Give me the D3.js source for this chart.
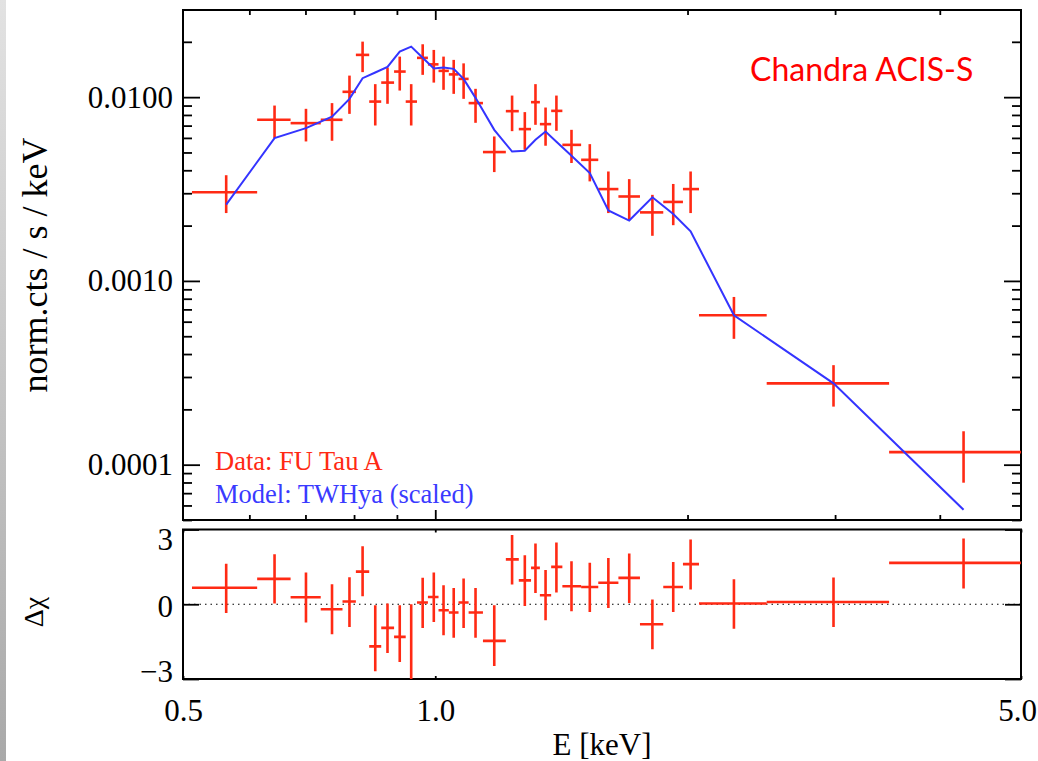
<!DOCTYPE html>
<html>
<head>
<meta charset="utf-8">
<script src="https://cdnjs.cloudflare.com/ajax/libs/d3/7.8.5/d3.min.js"></script>
<style>
  body { margin: 0; background: #ffffff; }
  svg text { font-family: "Liberation Serif", "DejaVu Serif", serif; }
</style>
</head>
<body>
<div id="chart"></div>
<script>
'use strict'

////////////////////////////////////
//////////// data //////////////////
////////////////////////////////////

// bin centres and bin edges [keV]
const energy = [0.563, 0.643, 0.701, 0.753, 0.790, 0.819, 0.848, 0.877, 0.907, 0.936, 0.966, 0.996,
    1.023, 1.052, 1.081, 1.117, 1.176, 1.235, 1.279, 1.317, 1.354, 1.395, 1.454, 1.529,
    1.609, 1.704, 1.816, 1.923, 2.017, 2.272, 2.987, 4.27]
const binEdges = [0.5125, 0.613, 0.672, 0.730, 0.775, 0.804, 0.834, 0.862, 0.893, 0.922, 0.951, 0.980,
    1.009, 1.038, 1.066, 1.096, 1.140, 1.214, 1.258, 1.301, 1.333, 1.375, 1.418, 1.493,
    1.565, 1.654, 1.755, 1.871, 1.975, 2.064, 2.486, 3.48, 5.2]

// FU Tau A counts [norm.cts / s / keV]
const flux = [0.00304, 0.00753, 0.00722, 0.00753, 0.01069, 0.01698, 0.00946, 0.0120, 0.01378, 0.00946, 0.01636, 0.01508,
    0.0139, 0.0133, 0.01257, 0.00928, 0.005025, 0.00839, 0.0067, 0.00939, 0.00713, 0.00842, 0.0055, 0.00456,
    0.00316, 0.00288, 0.00236, 0.00269, 0.00316, 0.00065, 0.000277, 0.000117]
const fluxHi = [0.00376, 0.0090, 0.00864, 0.00928, 0.0131, 0.02005, 0.01177, 0.01449, 0.01662, 0.01177, 0.0194, 0.01807,
    0.01662, 0.01595, 0.01527, 0.0111, 0.00611, 0.0102, 0.00829, 0.01177, 0.00878, 0.0102, 0.00664, 0.00555,
    0.00394, 0.00358, 0.00294, 0.00337, 0.00394, 0.000818, 0.000348, 0.000152]
const fluxLo = [0.00234, 0.00599, 0.00574, 0.00579, 0.00811, 0.01368, 0.00701, 0.0092, 0.01086, 0.00701, 0.01322, 0.0120,
    0.01096, 0.01042, 0.00979, 0.00725, 0.00391, 0.00653, 0.00517, 0.00707, 0.00544, 0.00656, 0.00438, 0.00348,
    0.00234, 0.00214, 0.00176, 0.00201, 0.00234, 0.000484, 0.000207, 0.0000798]

// TW Hya model (scaled)
const model = [0.0026, 0.00599, 0.00678, 0.00782, 0.00979, 0.01268, 0.01362, 0.01461, 0.01769, 0.01884, 0.01639, 0.01434,
    0.01449, 0.01425, 0.01257, 0.00991, 0.00664, 0.00506, 0.00511, 0.00586, 0.0065, 0.00572, 0.0048, 0.00386,
    0.00242, 0.00213, 0.00285, 0.00231, 0.00186, 0.00065, 0.000277, 0.0000568]

// residuals (delta chi)
const resid = [0.66, 1.02, 0.28, -0.20, 0.11, 1.31, -1.69, -0.95, -1.31, -3.94, 0.07, 0.29,
    -0.24, -0.33, 0.07, -0.33, -1.47, 1.80, 0.96, 1.46, 0.36, 1.50, 0.72, 0.69,
    0.86, 1.06, -0.80, 0.69, 1.61, 0.03, 0.09, 1.66]
const residHi = [1.63, 2.01, 1.27, 0.80, 1.08, 2.33, -0.04, 0.03, -0.04, 0.0, 1.06, 1.27,
    0.76, 0.65, 1.03, 0.65, -0.04, 2.78, 1.97, 2.44, 1.37, 2.48, 1.73, 1.67,
    1.86, 2.04, 0.19, 1.70, 2.60, 1.00, 1.07, 2.64]
const residLo = [-0.35, 0.03, -0.73, -1.20, -0.91, 0.32, -2.69, -1.96, -2.32, -4.9, -0.95, -0.71,
    -1.24, -1.34, -0.95, -1.34, -2.48, 0.79, -0.07, 0.45, -0.64, 0.47, -0.28, -0.31,
    -0.15, 0.05, -1.81, -0.31, 0.59, -0.98, -0.91, 0.63]

// ticks
const xMajor = [0.5, 1.0, 5.0]
const xMajorLabels = ['0.5', '1.0', '5.0']
const xMinor = [0.6, 0.7, 0.8, 0.9, 2, 3, 4]
const yMajor = [0.0001, 0.001, 0.01]
const yMajorLabels = ['0.0001', '0.0010', '0.0100']
const yMinor = [0.00005, 0.00006, 0.00007, 0.00008, 0.00009,
    0.0002, 0.0003, 0.0004, 0.0005, 0.0006, 0.0007, 0.0008, 0.0009,
    0.002, 0.003, 0.004, 0.005, 0.006, 0.007, 0.008, 0.009, 0.02]
const rTicks = [-3, 0, 3]
const rTickLabels = ['\u22123', '0', '3']

////////////////////////////////////
//////////// svg setup /////////////
////////////////////////////////////

const svgWidth = 1038
const svgHeight = 761

const left = 183, right = 1021
const top1 = 10, bot1 = 520      // spectrum panel
const top2 = 529.5, bot2 = 679   // residual panel

const red = '#ff2a14'
const blue = '#3434ff'

const svg = d3.select('#chart')
    .append('svg')
    .attr('width', svgWidth)
    .attr('height', svgHeight)

// grey strip on the left edge
const defs = svg.append('defs')
const grad = defs.append('linearGradient')
    .attr('id', 'edge')
    .attr('x1', 0).attr('y1', 0).attr('x2', 0).attr('y2', 1)
grad.append('stop').attr('offset', '0%').attr('stop-color', '#e2e2e2')
grad.append('stop').attr('offset', '100%').attr('stop-color', '#a9a9a9')
svg.append('rect')
    .attr('x', 0).attr('y', 0)
    .attr('width', 6).attr('height', svgHeight)
    .attr('fill', 'url(#edge)')

defs.append('clipPath').attr('id', 'clip1')
    .append('rect').attr('x', left).attr('y', top1).attr('width', right - left).attr('height', bot1 - top1)
defs.append('clipPath').attr('id', 'clip2')
    .append('rect').attr('x', left).attr('y', top2).attr('width', right - left).attr('height', bot2 - top2)

////////////////////////////////////
//////////// Scales ////////////////
////////////////////////////////////

const x = d3.scaleLog().domain([0.5, 5]).range([left, right])
const y = d3.scaleLog().domain([0.00005, 0.0298]).range([bot1, top1])
const yr = d3.scaleLinear().domain([-3, 3]).range([bot2, top2])

////////////////////////////////////
//////////// Axis //////////////////
////////////////////////////////////

function styleTicks(g, w) {
    g.select('.domain').remove()
    g.selectAll('line').attr('stroke', '#000').attr('stroke-width', w)
}

function styleLabels(g) {
    g.selectAll('text')
        .attr('fill', '#000')
        .style('font-size', '31px')
        .style('font-family', '"Liberation Serif", serif')
}

// spectrum panel, x ticks (top and bottom edge, pointing in)
svg.append('g').attr('transform', `translate(0,${bot1})`)
    .call(d3.axisBottom(x).tickValues(xMinor).tickSize(-5).tickFormat(''))
    .call(styleTicks, 1.8)
svg.append('g').attr('transform', `translate(0,${top1})`)
    .call(d3.axisTop(x).tickValues(xMinor).tickSize(-5).tickFormat(''))
    .call(styleTicks, 1.8)
svg.append('g').attr('transform', `translate(0,${bot1})`)
    .call(d3.axisBottom(x).tickValues([1.0]).tickSize(-10).tickFormat(''))
    .call(styleTicks, 1.8)
svg.append('g').attr('transform', `translate(0,${top1})`)
    .call(d3.axisTop(x).tickValues([1.0]).tickSize(-10).tickFormat(''))
    .call(styleTicks, 1.8)

// spectrum panel, y ticks
svg.append('g').attr('transform', `translate(${left},0)`)
    .call(d3.axisLeft(y).tickValues(yMinor).tickSize(-9).tickFormat(''))
    .call(styleTicks, 1.8)
svg.append('g').attr('transform', `translate(${right},0)`)
    .call(d3.axisRight(y).tickValues(yMinor).tickSize(-9).tickFormat(''))
    .call(styleTicks, 1.8)
svg.append('g').attr('transform', `translate(${right},0)`)
    .call(d3.axisRight(y).tickValues(yMajor).tickSize(-17).tickFormat(''))
    .call(styleTicks, 1.8)

svg.append('g').attr('transform', `translate(${left},0)`)
    .call(d3.axisLeft(y).tickValues(yMajor).tickSize(-17).tickPadding(10)
        .tickFormat((d, i) => yMajorLabels[i]))
    .call(styleTicks, 1.8)
    .call(styleLabels)

// residual panel zero line
svg.append('line')
    .attr('x1', x(0.5)).attr('x2', x(5))
    .attr('y1', yr(0)).attr('y2', yr(0))
    .attr('stroke', '#000')
    .attr('stroke-width', 1.2)
    .attr('stroke-dasharray', '1.5,4')

// residual panel, x ticks
svg.append('g').attr('transform', `translate(0,${top2})`)
    .call(d3.axisTop(x).tickValues(xMajor).tickSize(-3).tickFormat(''))
    .call(styleTicks, 1.8)
const xAxisG = svg.append('g').attr('transform', `translate(0,${bot2})`)
    .call(d3.axisBottom(x).tickValues(xMajor).tickSize(-3).tickPadding(20)
        .tickFormat((d, i) => xMajorLabels[i]))
    .call(styleTicks, 1.8)
    .call(styleLabels)
// last label sits on the right edge of the page
xAxisG.selectAll('text').attr('dx', d => d === 5 ? '-4px' : 0)

// residual panel, y ticks
svg.append('g').attr('transform', `translate(${right},0)`)
    .call(d3.axisRight(yr).tickValues(rTicks).tickSize(-16).tickFormat(''))
    .call(styleTicks, 1.8)
svg.append('g').attr('transform', `translate(${left},0)`)
    .call(d3.axisLeft(yr).tickValues(rTicks).tickSize(-16).tickPadding(10)
        .tickFormat((d, i) => rTickLabels[i]))
    .call(styleTicks, 1.8)
    .call(styleLabels)
    .selectAll('text')
    .attr('dy', d => d === 3 ? '0.65em' : d === -3 ? '0.08em' : '0.39em')

// frames
svg.append('rect')
    .attr('x', left).attr('y', top1)
    .attr('width', right - left).attr('height', bot1 - top1)
    .attr('fill', 'none').attr('stroke', '#000').attr('stroke-width', 2)
svg.append('rect')
    .attr('x', left).attr('y', top2)
    .attr('width', right - left).attr('height', bot2 - top2)
    .attr('fill', 'none').attr('stroke', '#000').attr('stroke-width', 2)

////////////////////////////////////
//////////// add marks /////////////
////////////////////////////////////

const idx = d3.range(energy.length)

const p1 = svg.append('g').attr('clip-path', 'url(#clip1)')

p1.selectAll('.xerr')
    .data(idx).join('line')
    .attr('class', 'xerr')
    .attr('x1', i => x(binEdges[i])).attr('x2', i => x(binEdges[i + 1]))
    .attr('y1', i => y(flux[i])).attr('y2', i => y(flux[i]))
    .attr('stroke', red).attr('stroke-width', 2.6)

p1.selectAll('.yerr')
    .data(idx).join('line')
    .attr('class', 'yerr')
    .attr('x1', i => x(energy[i])).attr('x2', i => x(energy[i]))
    .attr('y1', i => y(fluxLo[i])).attr('y2', i => y(fluxHi[i]))
    .attr('stroke', red).attr('stroke-width', 2.6)

const modelLine = d3.line()
    .x((d, i) => x(energy[i]))
    .y(d => y(d))

p1.append('path')
    .datum(model)
    .attr('d', modelLine)
    .attr('fill', 'none')
    .attr('stroke', blue)
    .attr('stroke-width', 2)

const p2 = svg.append('g').attr('clip-path', 'url(#clip2)')

p2.selectAll('.rxerr')
    .data(idx).join('line')
    .attr('class', 'rxerr')
    .attr('x1', i => x(binEdges[i])).attr('x2', i => x(binEdges[i + 1]))
    .attr('y1', i => yr(resid[i])).attr('y2', i => yr(resid[i]))
    .attr('stroke', red).attr('stroke-width', 2.6)

p2.selectAll('.ryerr')
    .data(idx).join('line')
    .attr('class', 'ryerr')
    .attr('x1', i => x(energy[i])).attr('x2', i => x(energy[i]))
    .attr('y1', i => yr(residLo[i])).attr('y2', i => yr(residHi[i]))
    .attr('stroke', red).attr('stroke-width', 2.6)

////////////////////////////////////
//////////// text //////////////////
////////////////////////////////////

svg.append('text')
    .attr('x', (left + right) / 2)
    .attr('y', 755)
    .attr('text-anchor', 'middle')
    .style('font-size', '31px')
    .text('E [keV]')

svg.append('text')
    .attr('transform', `translate(47,${(top1 + bot1) / 2}) rotate(-90)`)
    .attr('text-anchor', 'middle')
    .style('font-size', '36px')
    .text('norm.cts / s / keV')

svg.append('text')
    .attr('transform', `translate(43,612) rotate(-90)`)
    .attr('text-anchor', 'middle')
    .style('font-size', '28px')
    .text('\u0394\u03c7')

svg.append('text')
    .attr('x', 215).attr('y', 470)
    .style('font-size', '26.5px')
    .attr('fill', red)
    .text('Data: FU Tau A')

svg.append('text')
    .attr('x', 215).attr('y', 503)
    .style('font-size', '26.5px')
    .attr('fill', '#3a3aff')
    .text('Model: TWHya (scaled)')

svg.append('text')
    .attr('x', 750).attr('y', 81)
    .style('font-size', '32px')
    .style('font-family', 'Lato, "Open Sans", sans-serif')
    .attr('fill', '#ff0000')
    .text('Chandra ACIS-S')
</script>
</body>
</html>
